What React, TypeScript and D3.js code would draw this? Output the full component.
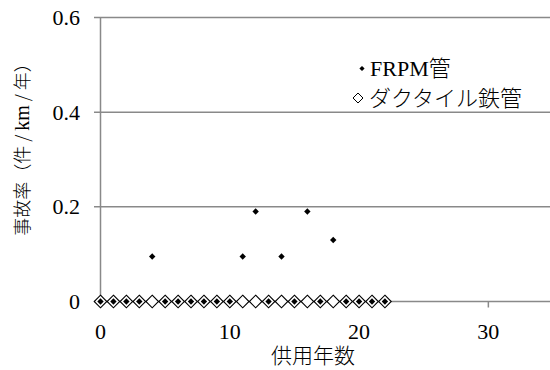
import React from 'react';
import * as d3 from 'd3';

// 供用年数 0..22
const years = d3.range(0, 23);
// FRPM管 事故率 (件/km/年)
const frpmRates = [0, 0, 0, 0, 0.095, 0, 0, 0, 0, 0, 0, 0.095, 0.19, 0, 0.095, 0, 0.19, 0, 0.13, 0, 0, 0, 0];
// ダクタイル鉄管 事故率
const ductileRates = [0, 0, 0, 0, 0, 0, 0, 0, 0, 0, 0, 0, 0, 0, 0, 0, 0, 0, 0, 0, 0, 0, 0];
const xTicks = [0, 10, 20, 30];
const yTicks = [0, 0.2, 0.4, 0.6];
const legendLabels = ['FRPM管', 'ダクタイル鉄管'];

const W = 550;
const H = 370;
const serif = 'Liberation Serif, DejaVu Serif, Noto Serif, Times, serif';
const jp = 'Noto Sans CJK JP, sans-serif';
const grey = '#898989';

function App() {
  const x = d3.scaleLinear().domain([0, 35]).range([100.5, 553]);
  const y = d3.scaleLinear().domain([0, 0.6]).range([301.5, 17.5]);

  const diamond = (cx: number, cy: number, r: number) =>
    `M${cx},${cy - r}L${cx + r},${cy}L${cx},${cy + r}L${cx - r},${cy}Z`;

  return (
    <svg width={W} height={H} style={{ position: 'absolute', left: 0, top: 0, background: '#fff' }}>
      {/* grid lines and y ticks */}
      {yTicks.map((t) => (
        <g key={t}>
          <line x1={94} x2={W} y1={y(t)} y2={y(t)} stroke={grey} strokeWidth={1.5} />
          <text x={80} y={y(t) + 7.5} textAnchor="end" fontFamily={serif} fontSize={22} fill="#000">
            {t === 0 ? '0' : t.toFixed(1)}
          </text>
        </g>
      ))}
      {/* y axis */}
      <line x1={x(0)} x2={x(0)} y1={y(0.6)} y2={y(0)} stroke={grey} strokeWidth={1.5} />
      {/* x ticks */}
      {xTicks.map((t) => (
        <g key={t}>
          <line x1={x(t)} x2={x(t)} y1={y(0)} y2={y(0) + 6} stroke={grey} strokeWidth={1.5} />
          <text x={x(t)} y={339} textAnchor="middle" fontFamily={serif} fontSize={22} fill="#000">
            {t}
          </text>
        </g>
      ))}

      {/* ductile: hollow diamonds */}
      {years.map((yr, i) => (
        <path key={'d' + yr} d={diamond(x(yr), y(ductileRates[i]), 6.3)} fill="#fff" stroke="#000" strokeWidth={1.1} />
      ))}
      {/* FRPM: small filled diamonds */}
      {years.map((yr, i) => (
        <path key={'f' + yr} d={diamond(x(yr), y(frpmRates[i]), 3.2)} fill="#000" />
      ))}

      {/* legend */}
      <path d={diamond(362, 68.5, 2.6)} fill="#000" />
      <text x={370} y={76} fontFamily={serif} fontSize={22} fill="#000">
        <tspan>FRPM</tspan>
        <tspan fontFamily={jp} fontWeight={300}>管</tspan>
      </text>
      <path d={diamond(358, 98, 5)} fill="#fff" stroke="#000" strokeWidth={1} />
      <text x={369} y={106} fontFamily={jp} fontSize={22} fontWeight={300} fill="#000">
        {legendLabels[1]}
      </text>

      {/* axis titles */}
      <text
        transform="translate(29,145) rotate(-90)"
        textAnchor="middle"
        fontFamily={jp}
        fontSize={18}
        fontWeight={300}
        fill="#000"
      >
        事故率（件 / <tspan fontFamily={serif} fontSize={20}>km</tspan> / 年）
      </text>
      <text x={313} y={363} textAnchor="middle" fontFamily={jp} fontSize={21} fontWeight={300} fill="#000">
        供用年数
      </text>
    </svg>
  );
}

export default App;
